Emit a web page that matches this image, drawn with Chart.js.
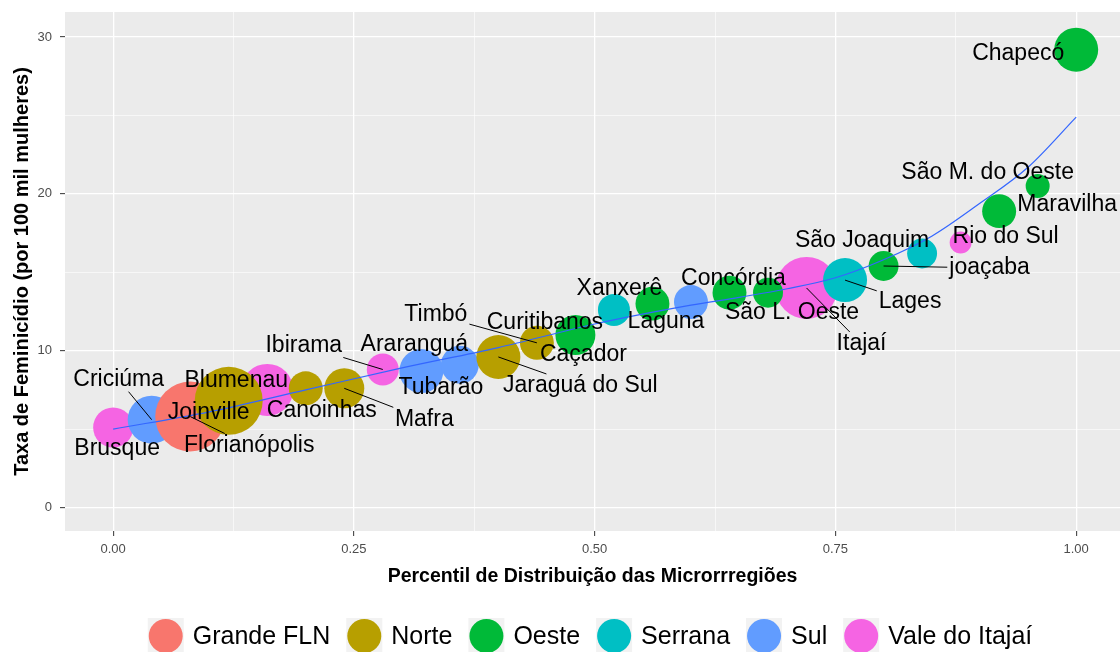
<!DOCTYPE html>
<html lang="pt-BR">
<head>
<meta charset="utf-8">
<title>Taxa de Feminicídio por microrregião</title>
<script src="https://cdn.jsdelivr.net/npm/chart.js@4.4.1/dist/chart.umd.min.js"></script>
<style>
  html, body { margin: 0; padding: 0; background: #ffffff; }
  canvas { display: block; }
</style>
</head>
<body>
<canvas id="grafico" width="1120" height="652"></canvas>
<script>
"use strict"

/*----------------------------- Dados -------------------------------------------*/

// microrregiões em ordem de percentil
const nomes = ["Brusque", "Criciúma", "Florianópolis", "Joinville", "Blumenau", "Canoinhas", "Mafra",
  "Ibirama", "Araranguá", "Tubarão", "Jaraguá do Sul", "Timbó", "Caçador", "Curitibanos", "Xanxerê",
  "Laguna", "Concórdia", "São L. Oeste", "Itajaí", "Lages", "joaçaba", "São Joaquim", "Rio do Sul",
  "Maravilha", "São M. do Oeste", "Chapecó"];
const regiao = ["Vale do Itajaí", "Sul", "Grande FLN", "Norte", "Vale do Itajaí", "Norte", "Norte",
  "Vale do Itajaí", "Sul", "Sul", "Norte", "Norte", "Oeste", "Serrana", "Oeste",
  "Sul", "Oeste", "Oeste", "Vale do Itajaí", "Serrana", "Oeste", "Serrana", "Vale do Itajaí",
  "Oeste", "Oeste", "Oeste"];
const percentil = [0.00, 0.04, 0.08, 0.12, 0.16, 0.20, 0.24, 0.28, 0.32, 0.36, 0.40, 0.44, 0.48,
  0.52, 0.56, 0.60, 0.64, 0.68, 0.72, 0.76, 0.80, 0.84, 0.88, 0.92, 0.96, 1.00];
const taxa = [5.1, 5.6, 5.8, 6.8, 7.5, 7.6, 7.6, 8.8, 8.7, 9.1, 9.6, 10.5, 11.0,
  12.6, 13.0, 13.1, 13.7, 13.7, 14.0, 14.5, 15.4, 16.2, 16.9, 18.9, 20.5, 29.2];
const tamanho = [100, 144, 306, 289, 169, 72, 100, 64, 121, 90, 121, 72, 100,
  64, 72, 72, 72, 56, 240, 121, 56, 56, 30, 72, 36, 121];

// curva suavizada
const suaveX = [0, 0.1, 0.2, 0.3, 0.4, 0.5, 0.6, 0.65, 0.7, 0.75, 0.8, 0.85, 0.9, 0.95, 1.0];
const suaveY = [5.0, 6.1, 7.5, 8.9, 10.2, 11.7, 12.9, 13.4, 13.95, 14.65, 15.8, 17.3, 19.4, 21.7, 24.9];

// legenda e eixos
const regioes = ["Grande FLN", "Norte", "Oeste", "Serrana", "Sul", "Vale do Itajaí"];
const valoresTickX = [0, 0.25, 0.5, 0.75, 1];
const rotulosTickX = ["0.00", "0.25", "0.50", "0.75", "1.00"];
const valoresTickY = [0, 10, 20, 30];
const rotulosTickY = ["0", "10", "20", "30"];

/*----------------------------- Estilo ------------------------------------------*/

const cores = ["#F8766D", "#B79F00", "#00BA38", "#00BFC4", "#619CFF", "#F564E3"];
const ordemDesenho = [4, 3, 1, 2, 5, 6]; // maior = desenhado por baixo

// deslocamento dos rótulos (px) e se tem linha ligando ao ponto
const rotuloDx = [4, -33, 59, -20, -31, 16, 80, -79, -7, -19, 82, -101, 8, -69, -33, -25, 4, 24, 55, 65, 106, -60, 45, 68, -50, -58];
const rotuloDy = [21, -40, 29, 12, -9, 22, 31, -24, -26, 23, 29, -28, 20, 13, -15, 20, -14, 20, 56, 22, 2, -13, -6, -6, -13, 4];
const comLinha = [0, 1, 1, 0, 0, 0, 1, 1, 0, 0, 1, 1, 0, 0, 0, 0, 0, 0, 1, 1, 1, 0, 0, 0, 0, 0];

const fonte = '"Liberation Sans", Arial, sans-serif';
Chart.defaults.font.family = fonte;

function meios(v) { // linhas secundárias entre as principais
  let m = [];
  for (let i = 0; i < v.length - 1; i++) m.push((v[i] + v[i + 1]) / 2);
  return m;
}

/*----------------------------- Datasets ----------------------------------------*/

let datasets = regioes.map((r, k) => {
  let pts = [];
  for (let i = 0; i < nomes.length; i++) {
    if (regiao[i] === r) pts.push({ x: percentil[i], y: taxa[i], r: 2 * Math.sqrt(tamanho[i]) });
  }
  return {
    type: "bubble",
    label: r,
    data: pts,
    backgroundColor: cores[k],
    borderWidth: 0,
    hoverRadius: 0,
    order: ordemDesenho[k]
  };
});

datasets.push({
  type: "line",
  label: "suave",
  data: suaveX.map((x, i) => ({ x: x, y: suaveY[i] })),
  borderColor: "#3366FF",
  borderWidth: 1.2,
  pointRadius: 0,
  fill: false,
  cubicInterpolationMode: "monotone",
  order: 0
});

/*----------------------------- Plugins -----------------------------------------*/

const fundoPainel = {
  id: "fundoPainel",
  beforeDraw(chart) {
    const { ctx, chartArea: a } = chart;
    ctx.save();
    ctx.fillStyle = "#EBEBEB";
    ctx.fillRect(a.left, a.top, a.right - a.left, a.bottom - a.top);
    ctx.restore();
  }
};

const rotulos = {
  id: "rotulos",
  afterDatasetsDraw(chart) {
    const ctx = chart.ctx;
    const sx = chart.scales.x, sy = chart.scales.y;
    ctx.save();
    ctx.font = "23px " + fonte;
    ctx.textAlign = "center";
    ctx.textBaseline = "middle";
    for (let i = 0; i < nomes.length; i++) {
      const px = sx.getPixelForValue(percentil[i]);
      const py = sy.getPixelForValue(taxa[i]);
      const lx = px + rotuloDx[i], ly = py + rotuloDy[i];
      if (comLinha[i]) {
        const hw = ctx.measureText(nomes[i]).width / 2 + 2, hh = 12;
        const dx = px - lx, dy = py - ly;
        const t = Math.min(dx ? hw / Math.abs(dx) : 9, dy ? hh / Math.abs(dy) : 9);
        if (t < 1) {
          ctx.strokeStyle = "#000";
          ctx.lineWidth = 1;
          ctx.beginPath();
          ctx.moveTo(px, py);
          ctx.lineTo(lx + dx * t, ly + dy * t);
          ctx.stroke();
        }
      }
      ctx.fillStyle = "#000";
      ctx.fillText(nomes[i], lx, ly);
    }
    ctx.restore();
  }
};

const legenda = {
  id: "legenda",
  afterDraw(chart) {
    const ctx = chart.ctx;
    ctx.save();
    ctx.font = "25px " + fonte;
    const larg = regioes.map(r => ctx.measureText(r).width);
    const chave = 36, gap = 9, espaco = 16;
    let total = espaco * (regioes.length - 1);
    larg.forEach(w => total += chave + gap + w);
    let x = 590 - total / 2;
    const y = 636;
    ctx.textBaseline = "middle";
    ctx.textAlign = "left";
    regioes.forEach((r, k) => {
      ctx.fillStyle = "#F2F2F2";
      ctx.fillRect(x, y - chave / 2, chave, chave);
      ctx.fillStyle = cores[k];
      ctx.beginPath();
      ctx.arc(x + chave / 2, y, 17, 0, Math.PI * 2);
      ctx.fill();
      ctx.fillStyle = "#000";
      ctx.fillText(r, x + chave + gap, y + 1);
      x += chave + gap + larg[k] + espaco;
    });
    ctx.restore();
  }
};

/*----------------------------- Gráfico -----------------------------------------*/

function grade(maiores) {
  return {
    color: "#FFFFFF",
    lineWidth: c => maiores.includes(c.tick.value) ? 1.3 : 0.6,
    tickColor: c => maiores.includes(c.tick.value) ? "#333333" : "rgba(0,0,0,0)",
    tickLength: 5,
    tickWidth: 1,
    drawOnChartArea: true
  };
}

new Chart(document.getElementById("grafico"), {
  type: "bubble",
  data: { datasets: datasets },
  options: {
    responsive: false,
    animation: false,
    devicePixelRatio: 1,
    layout: { autoPadding: false, padding: { top: 12, left: 0, right: 0, bottom: 0 } },
    plugins: {
      legend: { display: false },
      tooltip: { enabled: false }
    },
    scales: {
      x: {
        type: "linear",
        min: -0.05,
        max: 1.0455,
        afterBuildTicks: s => { s.ticks = valoresTickX.concat(meios(valoresTickX)).map(v => ({ value: v })); },
        afterFit: s => { s.height = 121; s.paddingLeft = 0; s.paddingRight = 0; },
        border: { display: false },
        grid: grade(valoresTickX),
        ticks: {
          autoSkip: false,
          maxRotation: 0,
          padding: 6,
          color: "#4D4D4D",
          font: { size: 13 },
          callback: v => { const i = valoresTickX.indexOf(v); return i >= 0 ? rotulosTickX[i] : ""; }
        },
        title: {
          display: true,
          text: "Percentil de Distribuição das Microrrregiões",
          color: "#000",
          font: { size: 19.5, weight: "bold" },
          padding: { top: 0, bottom: 64 }
        }
      },
      y: {
        type: "linear",
        min: -1.5,
        max: 31.6,
        afterBuildTicks: s => { s.ticks = valoresTickY.concat(meios(valoresTickY)).map(v => ({ value: v })); },
        afterFit: s => { s.width = 65; s.paddingTop = 0; s.paddingBottom = 0; },
        border: { display: false },
        grid: grade(valoresTickY),
        ticks: {
          autoSkip: false,
          padding: 8,
          color: "#4D4D4D",
          font: { size: 13 },
          callback: v => { const i = valoresTickY.indexOf(v); return i >= 0 ? rotulosTickY[i] : ""; }
        },
        title: {
          display: true,
          text: "Taxa de Feminicídio (por 100 mil mulheres)",
          color: "#000",
          font: { size: 20, weight: "bold" },
          padding: { top: 10, bottom: 0 }
        }
      }
    }
  },
  plugins: [fundoPainel, rotulos, legenda]
});
</script>
</body>
</html>
